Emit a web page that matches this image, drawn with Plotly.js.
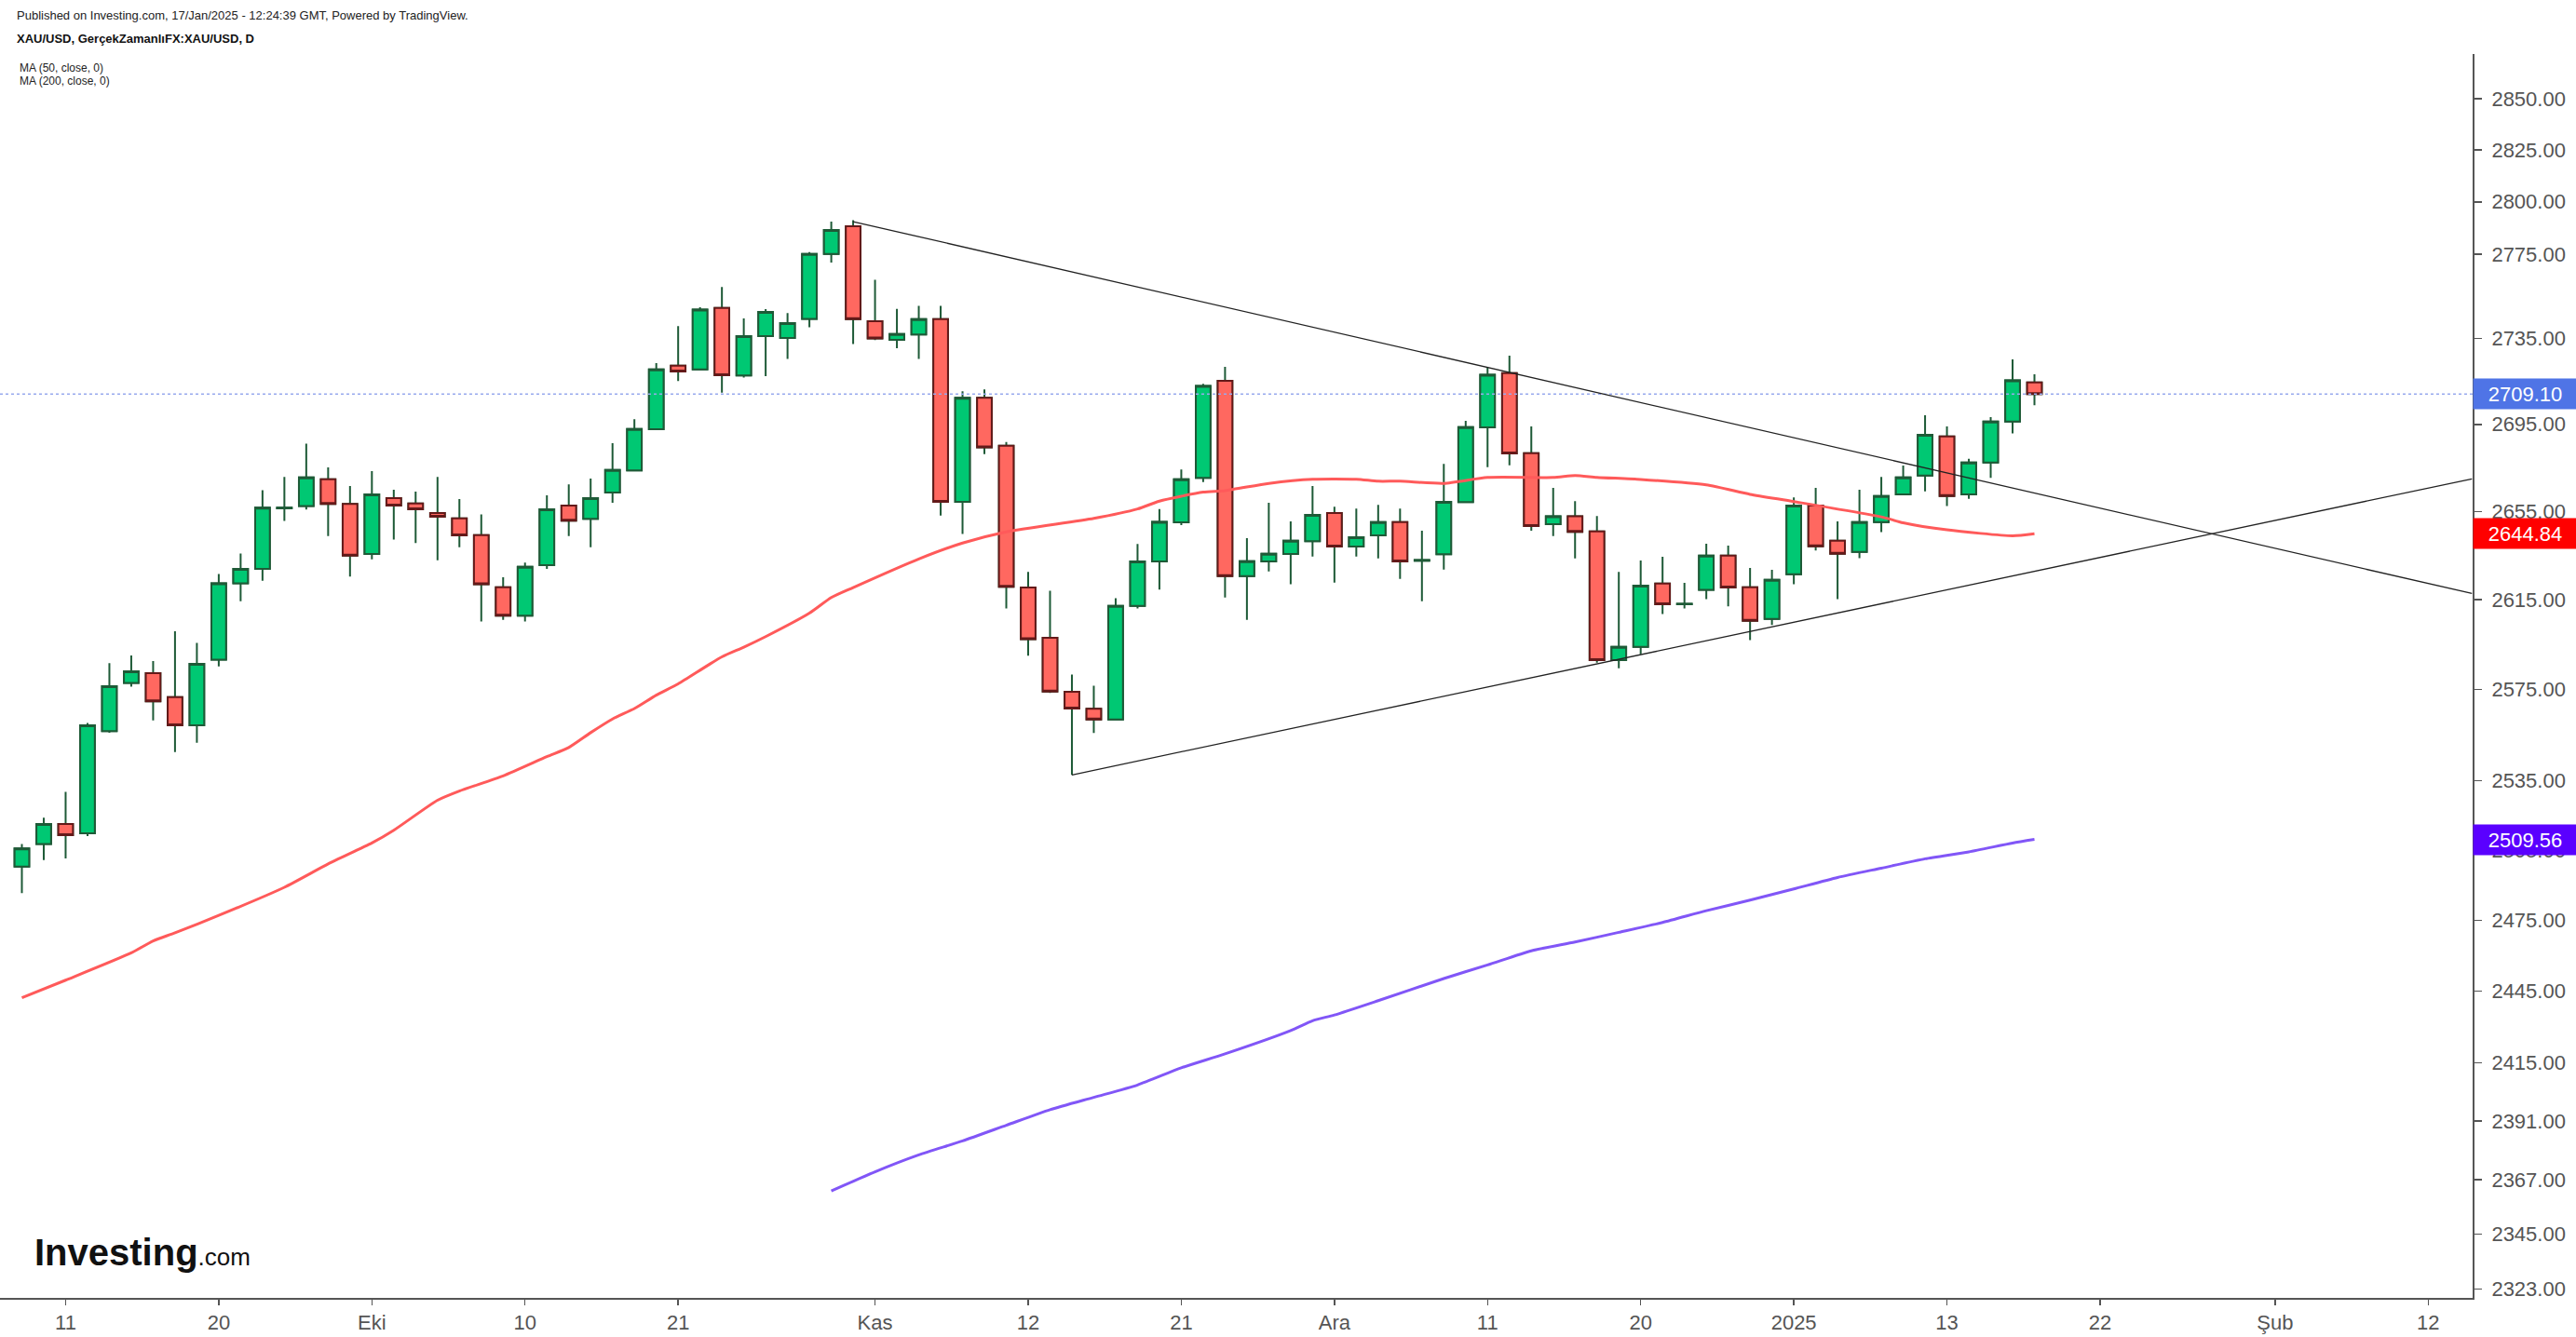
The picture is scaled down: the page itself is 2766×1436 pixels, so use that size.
<!DOCTYPE html>
<html>
<head>
<meta charset="utf-8">
<script src="https://cdn.plot.ly/plotly-3.0.1.min.js"></script>
<style>
html,body{margin:0;padding:0;background:#ffffff;}
#chart{width:2766px;height:1436px;}
</style>
</head>
<body>
<div id="chart"></div>
<script>
// ---------- DATA (XAU/USD daily) ----------
const dates = [
 '2024-09-09','2024-09-10','2024-09-11','2024-09-12','2024-09-13','2024-09-16','2024-09-17','2024-09-18','2024-09-19','2024-09-20',
 '2024-09-23','2024-09-24','2024-09-25','2024-09-26','2024-09-27','2024-09-30','2024-10-01','2024-10-02','2024-10-03','2024-10-04',
 '2024-10-07','2024-10-08','2024-10-09','2024-10-10','2024-10-11','2024-10-14','2024-10-15','2024-10-16','2024-10-17','2024-10-18',
 '2024-10-21','2024-10-22','2024-10-23','2024-10-24','2024-10-25','2024-10-28','2024-10-29','2024-10-30','2024-10-31','2024-11-01',
 '2024-11-04','2024-11-05','2024-11-06','2024-11-07','2024-11-08','2024-11-11','2024-11-12','2024-11-13','2024-11-14','2024-11-15',
 '2024-11-18','2024-11-19','2024-11-20','2024-11-21','2024-11-22','2024-11-25','2024-11-26','2024-11-27','2024-11-28','2024-11-29',
 '2024-12-02','2024-12-03','2024-12-04','2024-12-05','2024-12-06','2024-12-09','2024-12-10','2024-12-11','2024-12-12','2024-12-13',
 '2024-12-16','2024-12-17','2024-12-18','2024-12-19','2024-12-20','2024-12-23','2024-12-24','2024-12-26','2024-12-27','2024-12-30',
 '2024-12-31','2025-01-02','2025-01-03','2025-01-06','2025-01-07','2025-01-08','2025-01-09','2025-01-10','2025-01-13','2025-01-14',
 '2025-01-15','2025-01-16','2025-01-17'
];
const openP = [
 2497.9,2507.6,2516.2,2512.2,2556.7,2577.9,2582.2,2571.6,2559.2,2588.2,
 2622.4,2628.9,2656.4,2657.5,2669.7,2658.4,2635.6,2661.1,2658.6,2654.3,
 2651.8,2644.2,2620.6,2607.9,2630.6,2657.7,2651.6,2663.6,2673.8,2692.7,
 2722.3,2720.6,2749.4,2717.7,2736.2,2735.3,2744.3,2775.0,2788.3,2743.2,
 2734.4,2736.9,2744.1,2659.4,2707.3,2685.1,2620.5,2598.0,2574.0,2566.5,
 2561.8,2612.3,2632.3,2650.0,2670.3,2715.2,2625.7,2632.3,2635.6,2641.5,
 2654.3,2639.0,2644.1,2650.1,2632.6,2635.5,2659.3,2693.6,2718.8,2681.7,
 2649.2,2652.8,2645.9,2588.0,2593.9,2622.3,2613.0,2619.5,2634.9,2620.6,
 2606.4,2626.5,2657.7,2641.7,2636.6,2650.1,2662.8,2671.4,2689.4,2662.8,
 2677.4,2696.3,2714.5
];
const highP = [
 2507.6,2518.9,2530.1,2560.2,2586.7,2590.1,2587.6,2600.9,2595.7,2626.6,
 2635.9,2664.7,2670.8,2686.1,2675.1,2666.6,2673.4,2664.9,2664.0,2670.8,
 2660.6,2653.6,2625.1,2631.8,2662.3,2667.4,2670.0,2686.3,2697.4,2723.5,
 2740.9,2749.8,2759.3,2744.5,2748.9,2747.0,2775.9,2790.5,2791.2,2762.8,
 2749.0,2750.4,2750.4,2710.3,2711.2,2686.8,2627.5,2619.1,2581.6,2576.7,
 2615.7,2640.2,2656.1,2674.2,2713.8,2721.7,2642.8,2658.9,2650.4,2666.6,
 2657.1,2656.3,2658.0,2656.3,2646.2,2676.8,2696.6,2721.4,2727.0,2694.0,
 2665.7,2659.7,2652.9,2627.6,2632.7,2634.4,2622.6,2640.3,2639.4,2629.3,
 2628.5,2661.4,2665.7,2650.4,2664.9,2670.8,2676.0,2699.2,2694.0,2679.1,
 2698.3,2725.2,2718.3
];
const lowP = [
 2486.5,2500.7,2501.4,2511.0,2556.0,2576.3,2561.4,2547.5,2551.6,2585.2,
 2614.3,2623.6,2650.7,2655.9,2643.8,2625.4,2633.2,2642.2,2640.6,2632.8,
 2638.7,2605.3,2606.0,2605.3,2628.9,2643.8,2638.7,2658.9,2673.5,2692.5,
 2715.1,2720.3,2709.7,2716.8,2717.4,2725.4,2740.3,2770.9,2732.4,2734.3,
 2730.5,2725.4,2653.1,2644.7,2681.2,2611.1,2590.0,2573.5,2537.5,2555.8,
 2561.5,2611.1,2619.6,2648.8,2668.4,2616.0,2606.0,2627.8,2622.0,2634.5,
 2622.7,2634.5,2633.7,2624.4,2614.3,2628.6,2659.0,2675.3,2676.1,2646.2,
 2643.8,2633.7,2586.9,2584.4,2590.6,2608.6,2611.1,2615.3,2612.0,2597.0,
 2603.7,2622.0,2637.2,2615.3,2633.8,2645.6,2662.5,2664.1,2657.4,2660.7,
 2670.3,2690.8,2703.8
];
const closeP = [
 2505.7,2516.2,2511.4,2559.2,2576.5,2583.1,2569.8,2559.2,2586.4,2622.4,
 2628.9,2656.7,2656.7,2670.5,2658.4,2634.9,2662.8,2657.7,2656.0,2652.6,
 2644.1,2622.0,2607.9,2629.9,2656.0,2650.8,2661.1,2674.0,2692.8,2720.6,
 2719.6,2748.7,2717.8,2736.2,2747.6,2742.3,2775.0,2786.5,2744.1,2735.1,
 2737.1,2744.1,2659.4,2707.3,2684.4,2620.8,2597.4,2574.1,2566.6,2561.8,
 2612.3,2632.3,2650.2,2669.7,2712.8,2625.7,2632.4,2635.8,2641.7,2653.4,
 2639.0,2643.3,2650.1,2632.3,2632.9,2659.4,2693.7,2718.0,2681.6,2648.3,
 2652.8,2645.7,2588.0,2593.9,2621.4,2613.0,2613.2,2634.9,2620.5,2605.6,
 2624.0,2657.7,2639.1,2635.8,2650.1,2662.0,2670.5,2690.2,2662.0,2677.4,
 2696.3,2715.4,2709.1
];
// Moving averages, read at bar positions
const ma50Idx = [0,2,5,6,7,9,12,14,16,17,19,20,22,24,25,26,27,28,29,30,32,33,34,36,37,38,41,43,45,49,51,52,54,55,57,59,61,62,63,65,67,70,71,72,74,77,79,81,85,86,88,91,92];
const ma50Val = [2442.2,2449.6,2461.1,2466.2,2469.6,2477.0,2489.0,2499.0,2508.0,2513.5,2526.5,2530.5,2537.1,2545.5,2549.5,2556.0,2562.0,2566.6,2572.5,2577.5,2589.5,2593.8,2598.5,2609.0,2616.0,2620.5,2633.4,2640.6,2645.7,2651.8,2656.1,2659.7,2663.8,2664.5,2667.8,2669.7,2669.7,2668.8,2668.8,2667.8,2670.5,2670.5,2671.4,2670.6,2669.6,2667.1,2662.8,2659.5,2652.5,2649.8,2646.6,2643.9,2644.84];
const ma200Idx = [37,39,41,43,45,47,49,51,53,55,58,59,60,62,65,67,69,71,73,75,77,79,81,83,85,87,89,91,92];
const ma200Val = [2362.5,2370.3,2377.2,2382.9,2389.3,2395.7,2400.8,2405.9,2413.0,2418.8,2428.5,2432.6,2435.0,2441.0,2450.3,2456.0,2462.0,2465.7,2469.8,2474.0,2479.0,2483.5,2488.3,2493.2,2497.2,2501.2,2504.2,2508.0,2509.56];
// Drawn trend lines (bar position, price)
const trendUpperIdx = [38, 112];
const trendUpperVal = [2790.5, 2617.8];
const trendLowerIdx = [48, 112];
const trendLowerVal = [2537.5, 2669.9];
// Axis ticks
const tickIdx  = [2, 9, 16, 23, 30, 39, 46, 53, 60, 67, 74, 81, 88, 95, 103, 110];
const tickText = ['11','20','Eki','10','21','Kas','12','21','Ara','11','20','2025','13','22','Şub','12'];
const priceTicks = [2323,2345,2367,2391,2415,2445,2475,2505,2535,2575,2615,2655,2695,2735,2775,2800,2825,2850];
const xRange = [-1.0, 112.03];
const yRange = [2319.5, 2872];

// ---------- BUILD ----------
const xIdx = dates.map((d, i) => i);
const bodyHigh = openP.map((o, i) => Math.max(o, closeP[i]));
const bodyLow  = openP.map((o, i) => Math.min(o, closeP[i]));
const lastClose = closeP[closeP.length - 1];
const lastMa50 = ma50Val[ma50Val.length - 1];
const lastMa200 = ma200Val[ma200Val.length - 1];

const GREEN = '#00c873', GREEN_LINE = '#1e5a37';
const RED = '#ff6860', RED_LINE = '#641919';

const traces = [
  { // wicks
    type: 'candlestick', x: xIdx, open: openP, high: highP, low: lowP, close: closeP,
    increasing: {line: {color: GREEN_LINE, width: 2}, fillcolor: GREEN},
    decreasing: {line: {color: GREEN_LINE, width: 2}, fillcolor: RED},
    whiskerwidth: 0, hoverinfo: 'skip', showlegend: false
  },
  { // bodies
    type: 'candlestick', x: xIdx, open: openP, high: bodyHigh, low: bodyLow, close: closeP,
    increasing: {line: {color: GREEN_LINE, width: 2}, fillcolor: GREEN},
    decreasing: {line: {color: RED_LINE, width: 2}, fillcolor: RED},
    whiskerwidth: 0, hoverinfo: 'skip', showlegend: false
  },
  { // last price dotted line
    type: 'scatter', mode: 'lines', x: xRange, y: [lastClose, lastClose],
    line: {color: '#97a9ee', width: 1.5, dash: 'dot'}, hoverinfo: 'skip', showlegend: false
  },
  {
    type: 'scatter', mode: 'lines', x: ma50Idx, y: ma50Val,
    line: {color: '#ff5a5a', width: 3, shape: 'spline', smoothing: 0.6}, hoverinfo: 'skip', showlegend: false
  },
  {
    type: 'scatter', mode: 'lines', x: ma200Idx, y: ma200Val,
    line: {color: '#8156f7', width: 3, shape: 'spline', smoothing: 0.6}, hoverinfo: 'skip', showlegend: false
  },
  {
    type: 'scatter', mode: 'lines', x: trendUpperIdx, y: trendUpperVal,
    line: {color: '#222222', width: 1.3}, hoverinfo: 'skip', showlegend: false
  },
  {
    type: 'scatter', mode: 'lines', x: trendLowerIdx, y: trendLowerVal,
    line: {color: '#222222', width: 1.3}, hoverinfo: 'skip', showlegend: false
  }
];

const FONT = 'Liberation Sans, Arial, sans-serif';
function priceTag(v, bg) {
  return {
    xref: 'paper', x: 1, xanchor: 'left', yref: 'y', y: Math.log10(v), yanchor: 'middle',
    text: v.toFixed(2), showarrow: false, bgcolor: bg, width: 101, height: 22, borderpad: 5,
    align: 'center', font: {family: FONT, size: 22, color: '#ffffff'}
  };
}

const layout = {
  width: 2766, height: 1436,
  margin: {l: 0, r: 111, t: 58, b: 42, pad: 0},
  paper_bgcolor: '#ffffff', plot_bgcolor: '#ffffff',
  showlegend: false, hovermode: false,
  boxmode: 'overlay', boxgap: 0.33, boxgroupgap: 0,
  font: {family: FONT, color: '#555555'},
  xaxis: {
    type: 'linear', range: xRange, tickmode: 'array', tickvals: tickIdx, ticktext: tickText,
    showgrid: false, zeroline: false, showline: true, linecolor: '#555555', linewidth: 2,
    ticks: 'outside', ticklen: 6, tickwidth: 1.5, tickcolor: '#555555',
    tickfont: {family: FONT, size: 22, color: '#555555'},
    rangeslider: {visible: false}, fixedrange: true
  },
  yaxis: {
    type: 'log', side: 'right', range: [Math.log10(yRange[0]), Math.log10(yRange[1])],
    tickmode: 'array', tickvals: priceTicks, ticktext: priceTicks.map(v => v.toFixed(2)),
    showgrid: false, zeroline: false, showline: true, linecolor: '#555555', linewidth: 2,
    ticks: 'outside', ticklen: 8, tickwidth: 1.5, tickcolor: '#555555',
    tickfont: {family: FONT, size: 22, color: '#555555'}, ticklabelstandoff: 6,
    fixedrange: true
  },
  annotations: [
    {xref: 'paper', yref: 'paper', x: 0.006, y: 1.0307, xanchor: 'left', yanchor: 'middle', showarrow: false,
     text: 'Published on Investing.com, 17/Jan/2025 - 12:24:39 GMT, Powered by TradingView.',
     font: {family: FONT, size: 13, color: '#222222'}},
    {xref: 'paper', yref: 'paper', x: 0.006, y: 1.0120, xanchor: 'left', yanchor: 'middle', showarrow: false,
     text: '<b>XAU/USD, GerçekZamanlıFX:XAU/USD, D</b>',
     font: {family: FONT, size: 13, color: '#111111'}},
    {xref: 'paper', yref: 'paper', x: 0.0072, y: 0.9888, xanchor: 'left', yanchor: 'middle', showarrow: false,
     text: 'MA (50, close, 0)', font: {family: FONT, size: 12, color: '#222222'}},
    {xref: 'paper', yref: 'paper', x: 0.0072, y: 0.9783, xanchor: 'left', yanchor: 'middle', showarrow: false,
     text: 'MA (200, close, 0)', font: {family: FONT, size: 12, color: '#222222'}},
    {xref: 'paper', yref: 'paper', x: 0.0132, y: 0.0367, xanchor: 'left', yanchor: 'middle', showarrow: false,
     text: '<b>Investing</b><span style="font-size:26px">.com</span>',
     font: {family: FONT, size: 40, color: '#111111'}},
    priceTag(lastClose, '#4f74e6'),
    priceTag(lastMa50, '#ff0000'),
    priceTag(lastMa200, '#5a00ff')
  ]
};

Plotly.newPlot('chart', traces, layout, {staticPlot: true, displayModeBar: false});
</script>
</body>
</html>
